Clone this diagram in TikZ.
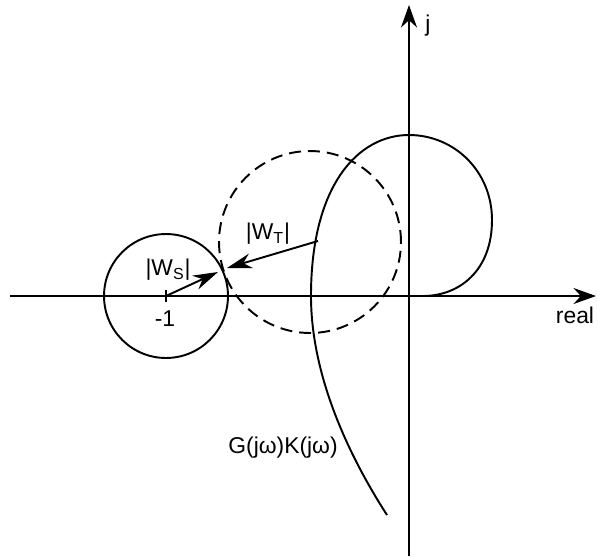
\documentclass[tikz,border=0pt]{standalone}
\usepackage{fontspec}
\setmainfont{Liberation Sans}
\usetikzlibrary{arrows.meta,positioning}

\begin{document}
\begin{tikzpicture}[x=0.02cm,y=0.02cm,>=Stealth,
 axis/.style={line width=1.2pt,-{Stealth[length=4.5mm,width=3.2mm]}},
 curve/.style={line width=1.1pt},
 radarr/.style={line width=1.1pt,-{Stealth[length=5mm,width=3mm]}},
 lbl/.style={font=\fontsize{13}{15}\selectfont,inner sep=1pt}]
\useasboundingbox (-409,-260) rectangle (189,296);
% axes
\coordinate (o) at (0,0);
\coordinate (xl) at (-399,0); \coordinate (xr) at (187,0);
\coordinate (yb) at (0,-260); \coordinate (yt) at (0,291);
\draw[axis] (xl) -- (xr);
\draw[axis] (yb) -- (yt);
\node[lbl] (real) at (166,-19) {real};
\node[lbl] (jlbl) at (19,270) {j};
% circles round -1 and the loop
\coordinate (m1) at (-243,0);
\coordinate (cT) at (-99,54);
\draw[curve] (m1) circle[radius=1.24cm];
\draw[curve,dash pattern=on 0.24cm off 0.14cm] (cT) circle[radius=1.82cm];
\draw[curve] (-243,-6) -- (-243,6);
\node[lbl] (mone) at (-244,-23) {-1};
% G(jw)K(jw)
\draw[curve] (-22,-219) .. controls (-60,-160) and (-98,-80) .. (-98,0)
 .. controls (-98,112) and (-50,161) .. (0,161)
 .. controls (45,161) and (83,125) .. (83,76)
 .. controls (83,25) and (50,0) .. (14,0);
\node[lbl] (gk) at (-126,-152) {G(jω)K(jω)};
% radius arrows
\coordinate (tS) at (-191,24);
\coordinate (sT) at (-91,55);
\coordinate (tT) at (-182,28);
\draw[radarr] (m1) -- (tS);
\draw[radarr] (sT) -- (tT);
\node[lbl] (ws) at (-241,26) {|W\textsubscript{S}|};
\node[lbl] (wt) at (-141,62) {|W\textsubscript{T}|};
\end{tikzpicture}
\end{document}
